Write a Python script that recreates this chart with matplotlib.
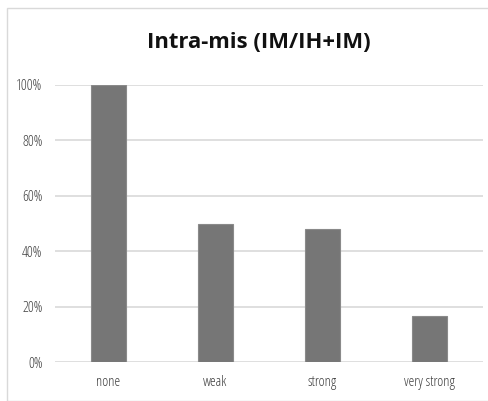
import matplotlib
matplotlib.use("Agg")
import matplotlib.pyplot as plt
from matplotlib.patches import Rectangle
from matplotlib.ticker import FuncFormatter

categories = ["none", "weak", "strong", "very strong"]
values = [100, 50, 48, 16.5]
yticks = [0, 20, 40, 60, 80, 100]

plt.rcParams['font.family'] = ['Open Sans', 'DejaVu Sans']

W, H = 489, 401
fig = plt.figure(figsize=(W / 100, H / 100), dpi=100)
ax = fig.add_axes([55 / W, (H - 362) / H, (483 - 55) / W, (362 - 85) / H])

ax.bar(range(len(categories)), values, width=0.32, color="#767676",
       edgecolor="#8a8a8a", linewidth=0.8, zorder=3)
ax.set_xlim(-0.5, len(categories) - 0.5)
ax.set_ylim(0, 100)
ax.set_yticks(yticks)
ax.yaxis.set_major_formatter(FuncFormatter(lambda v, p: f"{int(v)}%"))
ax.set_xticks(range(len(categories)))
ax.set_xticklabels(categories)
ax.grid(axis="y", color="#d9d9d9", linewidth=1.2, zorder=0)
for s in ax.spines.values():
    s.set_visible(False)
ax.tick_params(axis="both", length=0, labelsize=10.5, colors="#404040")
ax.tick_params(axis="y", pad=9)
ax.tick_params(axis="x", pad=9)
for lbl in ax.get_xticklabels() + ax.get_yticklabels():
    lbl.set_fontstretch("condensed")

fig.text(259 / W, (H - 43) / H, "Intra-mis (IM/IH+IM)", ha="center", va="center",
         fontsize=15.8, fontweight="bold", color="#111111")

fig.patches.append(Rectangle((7 / W, 0), 1, (H - 8) / H, transform=fig.transFigure,
                             fill=False, edgecolor="#d9d9d9", linewidth=1))

fig.savefig("out.png", dpi=100)
